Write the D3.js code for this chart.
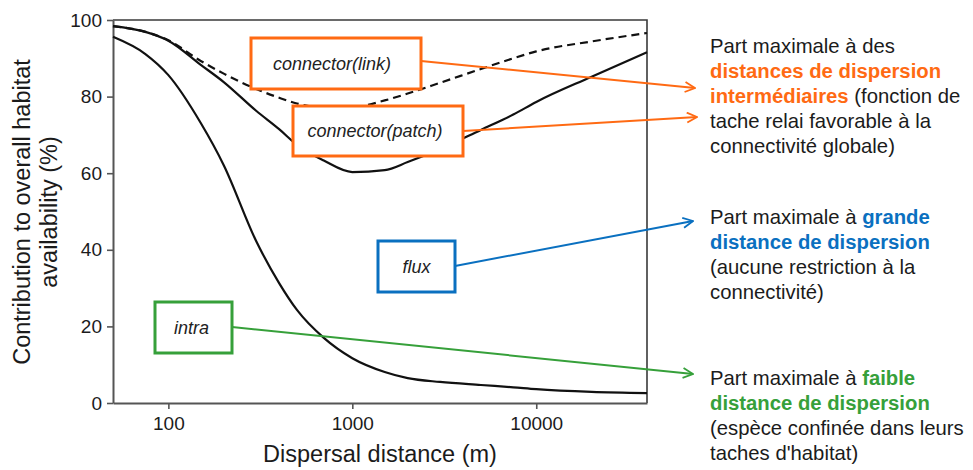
<!DOCTYPE html>
<html>
<head>
<meta charset="utf-8">
<script src="https://cdn.jsdelivr.net/npm/d3@7/dist/d3.min.js"></script>
<style>
  html, body { margin: 0; padding: 0; background: #fff; }
  svg { display: block; font-family: "Liberation Sans", Arial, sans-serif; }
</style>
</head>
<body>
<svg id="chart" width="973" height="470"></svg>
<script>
// Dispersal distances (m) at which each fraction was evaluated
const distances = [50, 75, 100, 150, 200, 300, 400, 500, 700, 1000, 1500, 2000, 3000, 5000, 7500, 10000, 20000, 40000];

// Contribution to overall habitat availability (%)
const intraValues = [95.6, 91.1, 85.6, 73.1, 62.1, 42.3, 31.3, 24.3, 17.0, 11.7, 8.1, 6.5, 5.5, 4.7, 4.1, 3.6, 2.9, 2.6];
const patchValues = [98.4, 96.9, 94.6, 88.3, 83.8, 76.3, 71.5, 67.4, 63.3, 60.3, 60.8, 62.9, 66.3, 71.3, 75.3, 78.6, 85.2, 91.6];
const linkValues  = [98.4, 96.9, 94.7, 89.3, 86.0, 82.0, 79.7, 78.2, 77.1, 77.2, 79.0, 80.8, 83.6, 87.2, 90.0, 91.8, 94.4, 96.6];

const yTicks = [0, 20, 40, 60, 80, 100];
const xTicks = [100, 1000, 10000];

const ORANGE = "#ff6a13", BLUE = "#0a70c0", GREEN = "#36a03a", INK = "#1b1b1b";

const svg = d3.select("#chart");
svg.append("rect").attr("width", 973).attr("height", 470).attr("fill", "#fff");

const x = d3.scaleLog().domain([50, 40000]).range([113, 647]);
const y = d3.scaleLinear().domain([0, 100]).range([403, 20]);

// plot frame (top and right edges)
svg.append("path")
  .attr("d", `M${x.range()[0]},${y(100)}H${x.range()[1]}V${y(0)}`)
  .attr("fill", "none").attr("stroke", "#3a3a3a").attr("stroke-width", 1.6);

const yAxis = svg.append("g")
  .attr("transform", `translate(${x.range()[0]},0)`)
  .call(d3.axisLeft(y).tickValues(yTicks).tickSize(6).tickPadding(5).tickSizeOuter(0));
const xAxis = svg.append("g")
  .attr("transform", `translate(0,${y(0)})`)
  .call(d3.axisBottom(x).tickValues(xTicks).tickFormat(d3.format("d")).tickSize(6).tickPadding(8).tickSizeOuter(0));

[yAxis, xAxis].forEach(g => {
  g.select(".domain").attr("stroke", "#555").attr("stroke-width", 2);
  g.selectAll(".tick line").attr("stroke", "#555").attr("stroke-width", 1.6);
  g.selectAll(".tick text").attr("fill", INK).style("font-size", "19px")
    .style("font-family", "'Liberation Sans', Arial, sans-serif");
});

// axis titles
svg.append("text").attr("x", 380).attr("y", 462).attr("text-anchor", "middle")
  .attr("fill", INK).style("font-size", "23.5px").text("Dispersal distance (m)");
const yt = svg.append("text").attr("transform", "translate(0,212) rotate(-90)")
  .attr("text-anchor", "middle").attr("fill", INK).style("font-size", "23.5px");
yt.append("tspan").attr("x", 0).attr("y", 30).text("Contribution to overall habitat");
yt.append("tspan").attr("x", 0).attr("y", 57).text("availability (%)");

// curves
const line = d3.line().x(d => x(d[0])).y(d => y(d[1])).curve(d3.curveMonotoneX);
const series = [
  { values: linkValues, dash: "8,5" },
  { values: patchValues, dash: null },
  { values: intraValues, dash: null }
];
svg.append("g").selectAll("path").data(series).join("path")
  .attr("d", s => line(distances.map((d, i) => [d, s.values[i]])))
  .attr("fill", "none").attr("stroke", "#111").attr("stroke-width", 2.2)
  .attr("stroke-dasharray", s => s.dash);

// arrowheads
const defs = svg.append("defs");
[["arrOrange", ORANGE], ["arrBlue", BLUE], ["arrGreen", GREEN]].forEach(([id, c]) => {
  defs.append("marker").attr("id", id).attr("viewBox", "0 0 12 12")
    .attr("refX", 11).attr("refY", 6).attr("markerWidth", 12).attr("markerHeight", 12)
    .attr("markerUnits", "userSpaceOnUse").attr("orient", "auto")
    .append("path").attr("d", "M1,1L11,6L1,11").attr("fill", "none")
    .attr("stroke", c).attr("stroke-width", 1.8);
});

// labelled boxes with leader arrows
const boxes = [
  { label: "connector(link)",  color: ORANGE, marker: "arrOrange", x0: 251, y0: 38,  x1: 421, y1: 89,  ty: 61,  tip: [695, 88],  dx: -4 },
  { label: "connector(patch)", color: ORANGE, marker: "arrOrange", x0: 293, y0: 106, x1: 463, y1: 156, ty: 131, tip: [697, 117], dx: -3 },
  { label: "flux",  color: BLUE,  marker: "arrBlue",  x0: 378, y0: 241, x1: 455, y1: 292, ty: 266, tip: [693, 221], dx: 0 },
  { label: "intra", color: GREEN, marker: "arrGreen", x0: 155, y0: 302, x1: 232, y1: 353, ty: 327, tip: [693, 374], dx: -2 }
];
const bg = svg.append("g");
boxes.forEach(b => {
  bg.append("line").attr("x1", b.x1).attr("y1", b.ty).attr("x2", b.tip[0]).attr("y2", b.tip[1])
    .attr("stroke", b.color).attr("stroke-width", 2).attr("marker-end", `url(#${b.marker})`);
  bg.append("rect").attr("x", b.x0).attr("y", b.y0).attr("width", b.x1 - b.x0).attr("height", b.y1 - b.y0)
    .attr("fill", "#fff").attr("stroke", b.color).attr("stroke-width", 3);
  bg.append("text").attr("x", (b.x0 + b.x1) / 2 + b.dx).attr("y", (b.y0 + b.y1) / 2 + 6)
    .attr("text-anchor", "middle").attr("fill", "#222").style("font-size", "18px")
    .style("font-style", "italic").text(b.label);
});

// explanatory notes on the right
const notes = [
  { y: 53, lines: [
    [["Part maximale à des", null]],
    [["distances de dispersion", ORANGE]],
    [["intermédiaires", ORANGE], [" (fonction de", null]],
    [["tache relai favorable à la", null]],
    [["connectivité globale)", null]] ] },
  { y: 224, lines: [
    [["Part maximale à ", null], ["grande", BLUE]],
    [["distance de dispersion", BLUE]],
    [["(aucune restriction à la", null]],
    [["connectivité)", null]] ] },
  { y: 385, lines: [
    [["Part maximale à ", null], ["faible", GREEN]],
    [["distance de dispersion", GREEN]],
    [["(espèce confinée dans leurs", null]],
    [["taches d'habitat)", null]] ] }
];
const ng = svg.append("g").style("font-size", "20.3px");
notes.forEach(n => {
  n.lines.forEach((parts, i) => {
    const t = ng.append("text").attr("x", 710).attr("y", n.y + i * 25).attr("fill", INK);
    parts.forEach(([txt, col]) => {
      const s = t.append("tspan").text(txt);
      if (col) s.attr("fill", col).style("font-weight", "bold");
    });
  });
});
</script>
</body>
</html>
